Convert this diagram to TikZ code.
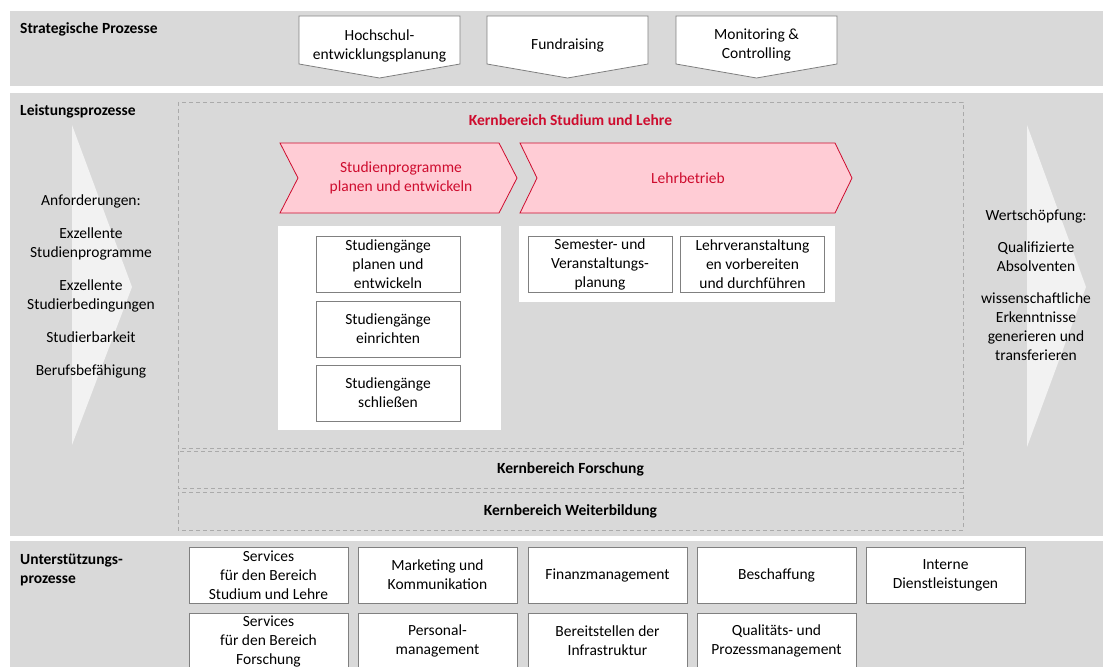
\documentclass[tikz,border=0pt]{standalone}
\usepackage{fontspec}
\setmainfont{Carlito}
\definecolor{bandgray}{RGB}{217,217,217}
\definecolor{pfeilweiss}{RGB}{242,242,242}
\definecolor{rahmengray}{RGB}{170,170,170}
\definecolor{boxgray}{RGB}{128,128,128}
\definecolor{kernrot}{RGB}{206,12,46}
\definecolor{kernrosa}{RGB}{255,204,213}

\begin{document}
\begin{tikzpicture}[x=1pt,y=-1pt,
    every node/.style={font=\fontsize{15.5}{19}\selectfont},
    bandlabel/.style={anchor=west,align=left,inner xsep=0pt,font=\fontsize{15.5}{19}\selectfont\bfseries},
    kerntitel/.style={font=\fontsize{15.5}{19}\selectfont\bfseries},
    procbox/.style={draw=boxgray,fill=white,line width=0.8pt,minimum width=159pt,
        minimum height=56pt,inner sep=0pt,align=center},
    subbox/.style={procbox,minimum width=144pt},
    rahmen/.style={draw=rahmengray,line width=0.8pt,dash pattern=on 4pt off 3pt}]
    \useasboundingbox (0,0) rectangle (1107,666);
    \clip (0,0) rectangle (1107,666);

    % 绘制背景条
    \fill[bandgray] (10,11) rectangle (1103,86);
    \fill[bandgray] (10,93) rectangle (1103,536);
    \fill[bandgray] (10,541) rectangle (1103,670);
    \node[bandlabel] (strat) at (20,29) {Strategische Prozesse};
    \node[bandlabel] (leist) at (20,111) {Leistungsprozesse};
    \node[bandlabel] (unter) at (20,569.5) {Unterstützungs-\\prozesse};

    % 战略过程
    \draw[boxgray,fill=white,line width=0.8pt] (299,16) -- (460,16) -- (460,64) -- (379.5,78) -- (299,64) -- cycle;
    \draw[boxgray,fill=white,line width=0.8pt] (487,16) -- (648,16) -- (648,64) -- (567.5,78) -- (487,64) -- cycle;
    \draw[boxgray,fill=white,line width=0.8pt] (676,16) -- (837,16) -- (837,64) -- (756.5,78) -- (676,64) -- cycle;
    \node[align=center] (hep) at (379.5,45.5) {Hochschul-\\entwicklungsplanung};
    \node (fund) at (567.5,45) {Fundraising};
    \node[align=center] (moni) at (756.5,45) {Monitoring \&\\Controlling};

    % 左右大箭头
    \fill[pfeilweiss] (72,125) -- (132,287) -- (72,445) -- cycle;
    \fill[pfeilweiss] (1027,125) -- (1086,287) -- (1027,447) -- cycle;
    \node[align=center] (anf) at (91,286.5) {Anforderungen:\\[14pt]
        Exzellente\\Studienprogramme\\[14pt]
        Exzellente\\Studierbedingungen\\[14pt]
        Studierbarkeit\\[14pt]
        Berufsbefähigung};
    \node[align=center] (wert) at (1036,285.5) {Wertschöpfung:\\[13pt]
        Qualifizierte\\Absolventen\\[13pt]
        wissenschaftliche\\Erkenntnisse\\generieren und\\transferieren};

    % 核心领域框
    \draw[rahmen] (178,102) rectangle (963,448);
    \draw[rahmen] (178,451) rectangle (963,488);
    \draw[rahmen] (178,492) rectangle (963,530);
    \node[kerntitel,text=kernrot] (kstudium) at (570.5,120) {Kernbereich Studium und Lehre};
    \node[kerntitel] (kforsch) at (570.5,469.5) {Kernbereich Forschung};
    \node[kerntitel] (kweiter) at (570.5,511) {Kernbereich Weiterbildung};

    % 红色流程箭头
    \draw[kernrot,fill=kernrosa,line width=0.8pt] (280,143) -- (499,143) -- (517,178) -- (499,213) -- (280,213) -- (298,178) -- cycle;
    \draw[kernrot,fill=kernrosa,line width=0.8pt] (520,143) -- (835,143) -- (852,178) -- (835,213) -- (520,213) -- (537,178) -- cycle;
    \node[align=center,text=kernrot] (sprog) at (401,177.5) {Studienprogramme\\planen und entwickeln};
    \node[text=kernrot] (lehr) at (688,178) {Lehrbetrieb};

    % 白色面板和子过程
    \fill[white] (278,226) rectangle (501,430);
    \fill[white] (519,226) rectangle (835,302);
    \node[subbox] (sgplan) at (388,264) {Studiengänge\\planen und\\entwickeln};
    \node[subbox] (sgein) at (388,329) {Studiengänge\\einrichten};
    \node[subbox] (sgschl) at (388,393) {Studiengänge\\schließen};
    \node[subbox] (semplan) at (600,264) {Semester- und\\Veranstaltungs-\\planung};
    \node[subbox] (lvdurch) at (752.5,264) {Lehrveranstaltung\\en vorbereiten\\und durchführen};

    % 支持过程
    \node[procbox] (svsl) at (268.5,575) {Services\\für den Bereich\\Studium und Lehre};
    \node[procbox] (mark) at (437.5,575) {Marketing und\\Kommunikation};
    \node[procbox] (fin) at (607.5,575) {Finanzmanagement};
    \node[procbox] (besch) at (776.5,575) {Beschaffung};
    \node[procbox] (intern) at (945.5,575) {Interne\\Dienstleistungen};
    \node[procbox] (svfo) at (268.5,641) {Services\\für den Bereich\\Forschung};
    \node[procbox] (pers) at (437.5,641) {Personal-\\management};
    \node[procbox] (infra) at (607.5,641) {Bereitstellen der\\Infrastruktur};
    \node[procbox] (qual) at (776.5,641) {Qualitäts- und\\Prozessmanagement};
\end{tikzpicture}
\end{document}
